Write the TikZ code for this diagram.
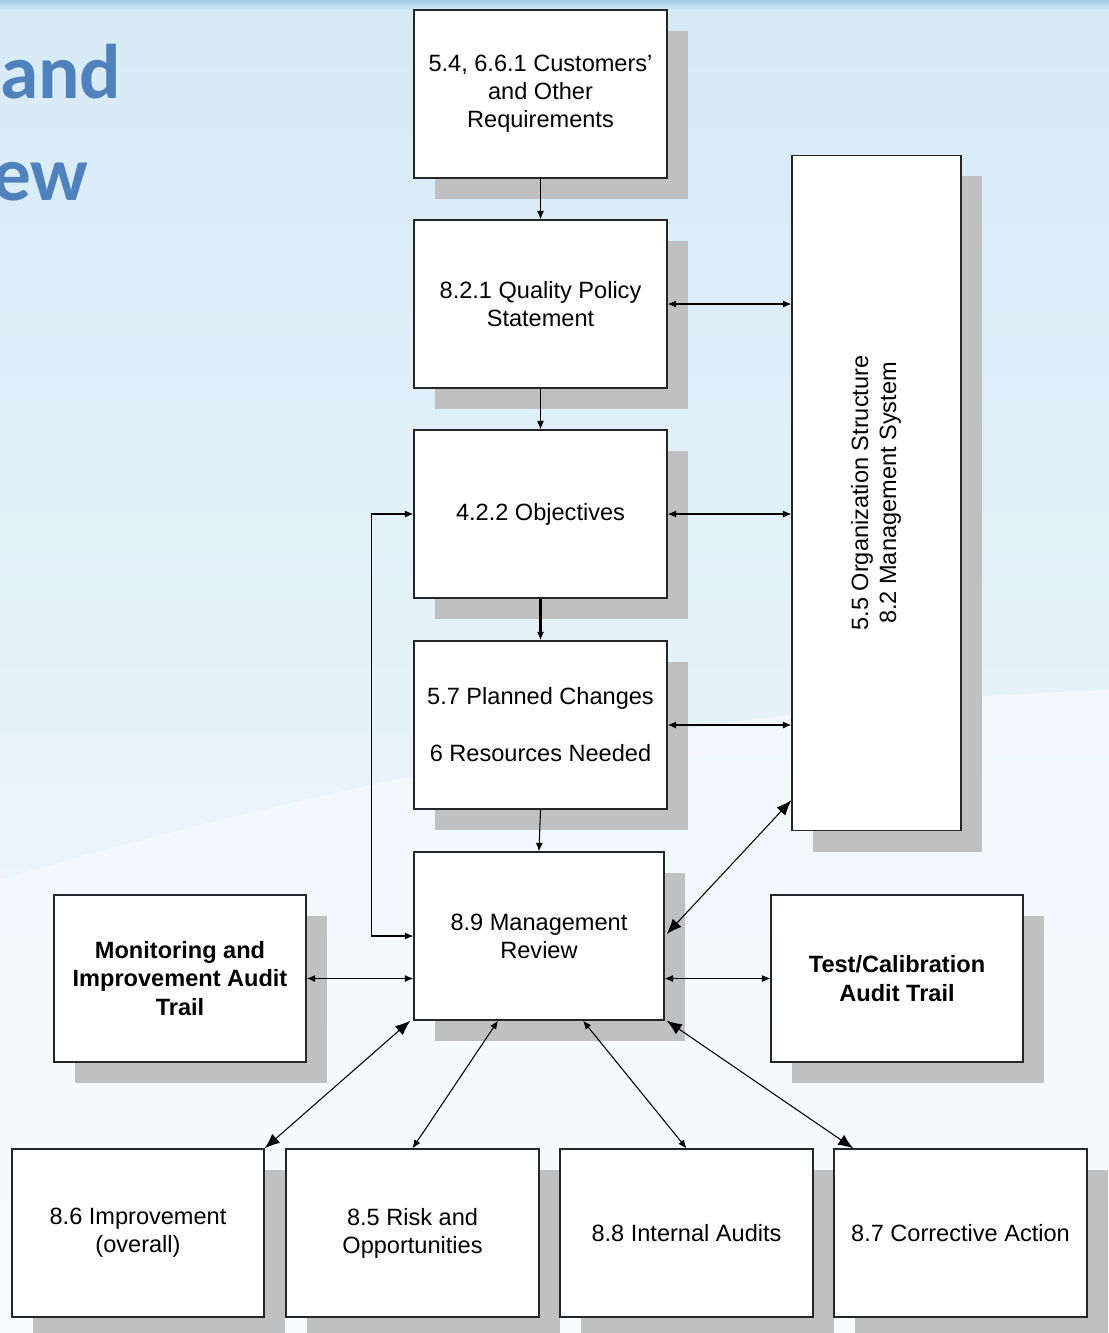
\documentclass[tikz,border=0pt]{standalone}
\usepackage{fontspec}
\setmainfont{Liberation Sans}
\newfontfamily\titlefont{Carlito}
\usetikzlibrary{arrows.meta,shadows,calc}
\definecolor{titleblue}{RGB}{79,129,189}
\definecolor{bgtop}{RGB}{214,234,246}
\definecolor{bgmid}{RGB}{229,240,248}
\definecolor{bgbot}{RGB}{244,249,252}
\definecolor{bgstripe}{RGB}{160,203,228}
\definecolor{shadowgray}{RGB}{192,192,192}

\begin{document}
\begin{tikzpicture}[x=0.01cm, y=-0.01cm,
  box/.style={draw=black!85, fill=white, line width=0.35pt, inner sep=0pt, minimum width=2.53cm, minimum height=1.68cm, align=center, font=\fontsize{6.7}{8}\selectfont, drop shadow={shadow xshift=0.21cm, shadow yshift=-0.21cm, fill=shadowgray, opacity=1}},
  link/.style={line width=0.3pt, {Latex[length=2.4pt,width=2pt]}-{Latex[length=2.4pt,width=2pt]}},
  biglink/.style={line width=0.3pt, {Latex[length=4.3pt,width=3.4pt]}-{Latex[length=4.3pt,width=3.4pt]}},
  flow/.style={line width=0.3pt, -{Latex[length=2.4pt,width=2pt]}}]
\useasboundingbox (0,0) rectangle (1109,1333);
\clip (0,0) rectangle (1109,1333);
\shade[top color=bgtop, middle color=bgmid, bottom color=bgbot] (0,0) rectangle (1109,1333); % slide background
\fill[white, opacity=0.45] (0,880) .. controls (400,760) and (800,700) .. (1109,690) -- (1109,1333) -- (0,1333) -- cycle; % light swoosh
\shade[top color=bgstripe, bottom color=bgtop] (0,0) rectangle (1109,10); % top band
\node[anchor=base east, text=titleblue, font=\titlefont\bfseries\fontsize{22}{26}\selectfont, inner sep=0pt] (titleA) at (122,98) {and}; % title, cut off
\node[anchor=base east, text=titleblue, font=\titlefont\bfseries\fontsize{22}{26}\selectfont, inner sep=0pt] (titleB) at (89,200) {ew};

% main column
\node[box] (req) at (540.5,94) {5.4, 6.6.1 Customers'\\and Other\\Requirements};
\node[box] (policy) at (540.5,304) {8.2.1 Quality Policy\\Statement};
\node[box] (obj) at (540.5,514) {4.2.2 Objectives};
\node[box] (plan) at (540.5,725) {5.7 Planned Changes\\[8.2pt]6 Resources Needed};
\node[box, minimum width=2.5cm] (review) at (539,936) {8.9 Management\\Review};
% side boxes
\node[box, minimum width=1.69cm, minimum height=6.75cm] (org) at (876.5,493) {\rotatebox{90}{\begin{tabular}{@{}c@{}}5.5 Organization Structure\\8.2 Management System\end{tabular}}};
\node[box, minimum width=2.52cm, minimum height=1.67cm, font=\fontsize{6.7}{8}\selectfont\bfseries] (monitor) at (180,978.5) {Monitoring and\\Improvement Audit\\Trail};
\node[box, minimum width=2.52cm, minimum height=1.67cm, font=\fontsize{6.7}{8}\selectfont\bfseries] (calib) at (897,978.5) {Test/Calibration\\Audit Trail};
% bottom row
\node[box, minimum width=2.52cm] (improve) at (138,1233) {8.6 Improvement\\(overall)};
\node[box] (risk) at (412.5,1233) {8.5 Risk and\\Opportunities};
\node[box] (audits) at (686.5,1233) {8.8 Internal Audits};
\node[box] (corrective) at (960.5,1233) {8.7 Corrective Action};

% connectors
\draw[flow] (req.south) -- (policy.north);
\draw[flow] (policy.south) -- (obj.north);
\draw[flow, line width=0.6pt] (obj.south) -- (plan.north);
\draw[flow] (plan.south) -- (review.north);
\draw[link] (policy.east) -- (policy.east -| org.west);
\draw[link] (obj.east) -- (obj.east -| org.west);
\draw[link] (plan.east) -- (plan.east -| org.west);
\draw[biglink] ($(review.east)+(2,-2)$) -- ($(org.south west)+(0,-31)$);
\draw[link] (review.west) -- ++(-42,0) |- (obj.west); % feedback loop
\draw[link] (monitor.east) -- (monitor.east -| review.west);
\draw[link] (review.east |- calib.west) -- (calib.west);
\draw[biglink] ($(review.south west)+(-3,0)$) -- (improve.north east);
\draw[link] ($(review.south)+(-41,0)$) -- (risk.north);
\draw[link] ($(review.south)+(44,0)$) -- (audits.north);
\draw[biglink] ($(review.south east)+(2,0)$) -- ($(corrective.north west)+(20,0)$);
\end{tikzpicture}
\end{document}
